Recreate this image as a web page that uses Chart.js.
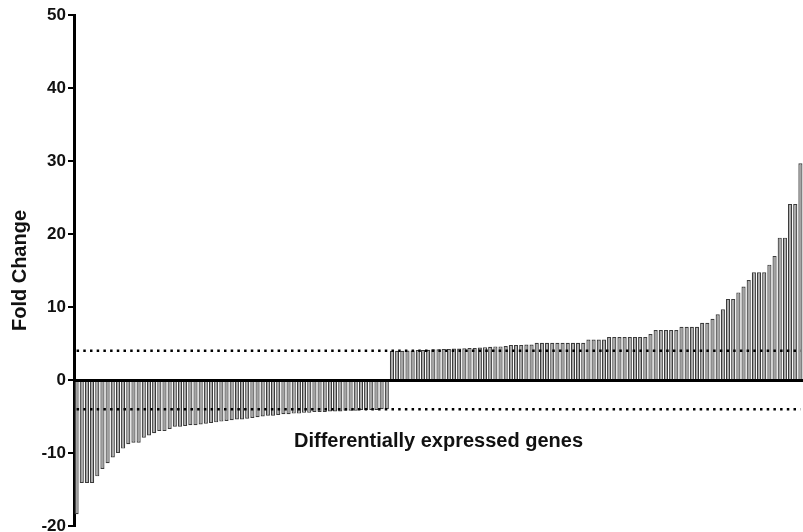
<!DOCTYPE html>
<html>
<head>
<meta charset="utf-8">
<script src="https://cdn.jsdelivr.net/npm/chart.js@4"></script>
<style>
    body { margin: 0; background: #fff; }
    #wrap { width: 803px; height: 532px; position: relative; }
</style>
</head>
<body>
<div id="wrap"><canvas id="chart"></canvas></div>
<script>
// fold change of down regulated genes, sorted
const downGenes = [
    -18.4, -14.1, -14.1, -14.1, -13.2, -12.2, -11.4, -10.6, -10.0, -9.4, -8.8, -8.6, -8.6, -7.9, -7.6, -7.3, -7.0, -7.0, -6.7, -6.4, -6.4,
    -6.3, -6.2, -6.2, -6.1, -6.0, -5.9, -5.8, -5.7, -5.6, -5.5, -5.4, -5.4, -5.3, -5.2, -5.1, -5.0, -4.9, -4.9, -4.8, -4.7, -4.7,
    -4.6, -4.6, -4.5, -4.5, -4.4, -4.4, -4.4, -4.3, -4.3, -4.3, -4.2, -4.2, -4.2, -4.1, -4.1, -4.1, -4.1, -4.0, -4.0
]
// fold change of up regulated genes, sorted
const upGenes = [
    4.0, 4.0, 4.0, 4.05, 4.05, 4.1, 4.1, 4.15, 4.2,
    4.2, 4.25, 4.25, 4.3, 4.3, 4.35, 4.4, 4.4, 4.45, 4.5,
    4.55, 4.6, 4.6, 4.65,
    4.8, 4.8, 4.8, 4.85, 4.85,
    5.1, 5.1, 5.1, 5.1, 5.1, 5.1, 5.1, 5.1, 5.1, 5.1,
    5.55, 5.55, 5.55, 5.55,
    5.9, 5.9, 5.9, 5.9, 5.9, 5.9, 5.9, 5.9,
    6.3,
    6.85, 6.85, 6.85, 6.85, 6.85,
    7.3, 7.3, 7.3, 7.3,
    7.85, 7.85,
    8.4, 9.0, 9.7,
    11.1, 11.1,
    12.0, 12.8, 13.7,
    14.75, 14.75, 14.75,
    15.8, 17.0,
    19.5, 19.5,
    24.1, 24.1,
    29.7
]
const cutoffUp = 4
const cutoffDown = -4
const yTicks = [-20, -10, 0, 10, 20, 30, 40, 50]

const foldValues = downGenes.concat(upGenes)
const genes = foldValues.map((v, i) => 'gene' + (i + 1))
const firstGene = genes[0]
const lastGene = genes[genes.length - 1]

const boldFont = (size) => ({ family: '"Liberation Sans", Arial, sans-serif', weight: 'bold', size: size })

const data = {
    labels: genes,
    datasets: [{
        type: 'line',
        data: [{ x: firstGene, y: cutoffUp }, { x: lastGene, y: cutoffUp }],
        borderColor: '#000',
        borderWidth: 2.5,
        borderDash: [2.5, 4.2],
        pointRadius: 0,
        order: 0
    }, {
        type: 'line',
        data: [{ x: firstGene, y: cutoffDown }, { x: lastGene, y: cutoffDown }],
        borderColor: '#000',
        borderWidth: 2.5,
        borderDash: [2.5, 4.2],
        pointRadius: 0,
        order: 0
    }, {
        type: 'bar',
        label: 'Fold Change',
        data: foldValues,
        backgroundColor: '#a4a4a4',
        borderColor: '#3c3c3c',
        borderWidth: 1.2,
        barPercentage: 0.8,
        categoryPercentage: 1,
        order: 1
    }]
}

const config = {
    data,
    options: {
        responsive: true,
        maintainAspectRatio: false,
        animation: false,
        layout: { padding: { top: 15, bottom: 6, left: 0, right: 0 } },
        plugins: {
            legend: { display: false },
            tooltip: { enabled: false }
        },
        scales: {
            x: {
                type: 'category',
                position: { y: 0 },
                grid: { display: false, drawTicks: false },
                ticks: { display: false },
                border: { display: true, width: 3, color: '#000', z: 1 },
                title: {
                    display: true,
                    text: 'Differentially expressed genes',
                    color: '#111',
                    font: boldFont(20),
                    padding: { top: 49, bottom: 0 }
                }
            },
            y: {
                min: -20,
                max: 50,
                afterBuildTicks: (scale) => {
                    scale.ticks = yTicks.map((v) => ({ value: v }))
                },
                afterFit: (scale) => {
                    scale.width = 74
                    scale.paddingTop = 0
                    scale.paddingBottom = 0
                },
                grid: { drawOnChartArea: false, drawTicks: true, tickLength: 6, color: '#000', lineWidth: 2 },
                border: { display: true, width: 3, color: '#000' },
                ticks: { color: '#111', font: boldFont(17), padding: 2 },
                title: {
                    display: true,
                    text: 'Fold Change',
                    color: '#111',
                    font: boldFont(20),
                    padding: { top: 8, bottom: 0 }
                }
            }
        }
    }
}

const myChart = new Chart(document.getElementById('chart'), config)
</script>
</body>
</html>
